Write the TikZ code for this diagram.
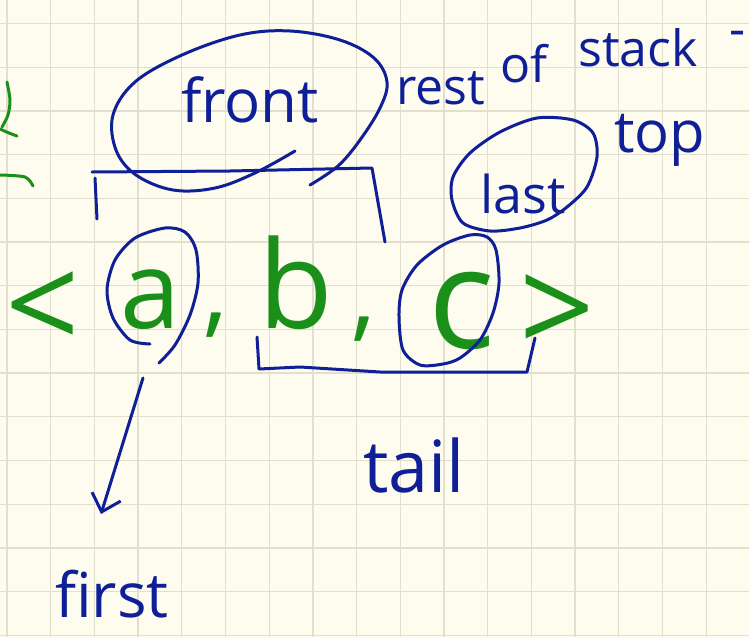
\documentclass[tikz,border=0pt]{standalone}
\usepackage{fontspec}
\setmainfont{Open Sans}
\usetikzlibrary{arrows.meta}
\definecolor{paper}{HTML}{FDFCEE}
\definecolor{gridc}{HTML}{E2DFCD}
\definecolor{ink}{HTML}{0E1F97}
\definecolor{gink}{HTML}{1A8F1A}
\tikzset{
  pen/.style={ink, line width=3pt, line cap=round, line join=round},
  gpen/.style={gink, line width=3pt, line cap=round, line join=round},
  btext/.style={text=ink, inner sep=0pt, anchor=base},
  gtext/.style={text=gink, inner sep=0pt, anchor=base},
  gridline/.style={gridc, line width=1.3pt},
}
\begin{document}
\begin{tikzpicture}[x=1pt,y=-1pt]
\useasboundingbox (0,0) rectangle (749,637);
\clip (0,0) rectangle (749,637);
\fill[paper] (0,0) rectangle (749,637);
\foreach \i in {0,...,17} \draw[gridline] ({7+43.7*\i},0) -- ++(0,637);
\foreach \j in {0,...,14} \draw[gridline] (0,{23.5+43.7*\j}) -- ++(749,0);

% green fragments at the left edge
\draw[gpen] plot[smooth] coordinates {(7,82) (10,100) (8,115) (2,127)};
\draw[gpen] plot[smooth] coordinates {(0,129) (9,133) (17,136)};
\draw[gpen] plot[smooth] coordinates {(0,175) (25,177) (33,186)};

% green sequence
\node[gtext, font=\fontsize{130}{130}\selectfont] (lt) at (43,350) {<};
\node[gtext, font=\fontsize{108}{108}\selectfont] (ea) at (151,328) {a};
\node[gtext, font=\fontsize{100}{100}\selectfont] (c1) at (216,324) {,};
\node[gtext, font=\fontsize{122}{122}\selectfont] (eb) at (296,328) {b};
\node[gtext, font=\fontsize{100}{100}\selectfont] (c2) at (364,328) {,};
\node[gtext, font=\fontsize{140}{140}\selectfont] (ec) at (462,348) {c};
\node[gtext, font=\fontsize{132}{132}\selectfont] (gt) at (557,354) {>};

% blue labels
\node[btext, font=\fontsize{60}{60}\selectfont] (front) at (250,122) {front};
\node[btext, font=\fontsize{50}{50}\selectfont] (rest) at (441,104) {rest};
\node[btext, font=\fontsize{50}{50}\selectfont] (of) at (524,82) {of};
\node[btext, font=\fontsize{50}{50}\selectfont] (stack) at (638,66) {stack};
\node[btext, font=\fontsize{50}{50}\selectfont] (dash) at (738,46) {-};
\node[btext, font=\fontsize{52}{52}\selectfont] (last) at (523,213) {last};
\node[btext, font=\fontsize{58}{58}\selectfont] (top) at (660,152) {top};
\node[btext, font=\fontsize{62}{62}\selectfont] (first) at (112,617) {first};
\node[btext, font=\fontsize{72}{72}\selectfont] (tail) at (414,492) {tail};

% front ellipse
\draw[pen] plot[smooth, tension=0.6] coordinates {(310,185) (338,166) (360,140) (380,108) (387,82) (374,58) (340,40) (290,31) (240,35) (182,55) (135,82) (113,115) (116,150) (136,175) (173,190) (215,188) (255,173) (295,151)};

% bracket over a , b
\draw[pen] (97,219) -- (95,178);
\draw[pen] (92,172) -- (230,171) -- (372,168) -- (385,242);

% circle around a
\draw[pen] plot[smooth] coordinates {(150,344) (130,340) (113,318) (107,290) (115,260) (135,238) (165,228) (185,232) (196,250) (198,283) (190,315) (175,345) (159,363)};

% bracket under b , c
\draw[pen] (257,337) -- (259,369) -- (300,367) -- (380,372) -- (527,372) -- (535,338);

% circle around c
\draw[pen] plot[smooth cycle] coordinates {(487,237) (496,250) (499,283) (493,313) (480,340) (460,358) (443,364) (420,365) (403,350) (399,317) (402,290) (417,265) (443,245) (470,235)};

% last ellipse
\draw[pen] plot[smooth cycle] coordinates {(500,132) (537,118) (573,120) (593,133) (597,157) (587,187) (567,207) (547,220) (520,228) (490,231) (463,223) (452,200) (453,177) (470,153)};

% arrow from a to first
\coordinate (abot) at (143,378);
\coordinate (atip) at (101,514);
\draw[pen, -{Straight Barb[length=16pt,width=30pt]}] (abot) -- (atip);
\end{tikzpicture}
\end{document}
